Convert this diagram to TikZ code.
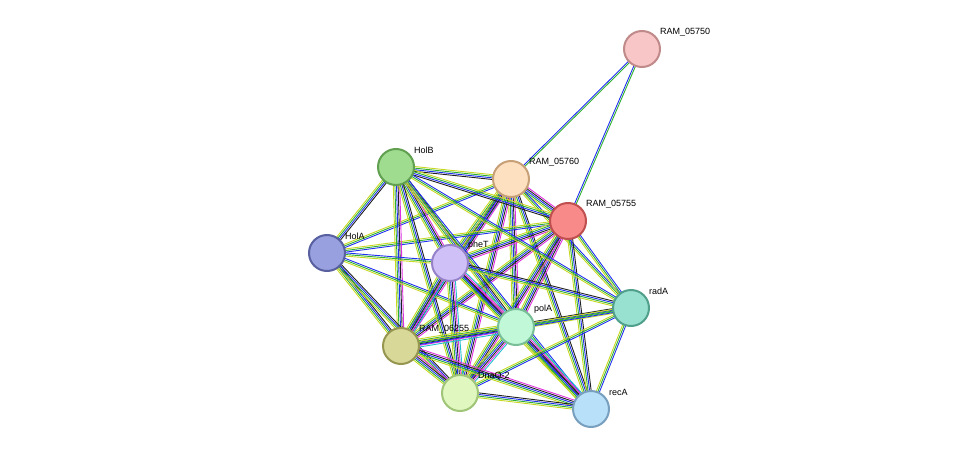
\documentclass[tikz,border=0pt]{standalone}
\usepackage{fontspec}
\setmainfont{Liberation Sans}
\usetikzlibrary{calc}
\begin{document}
\begin{tikzpicture}[x=1pt,y=-1pt,
  prot/.style={circle,minimum size=36pt,line width=2pt,inner sep=0pt},
  lab/.style={font=\fontsize{9}{10}\selectfont,anchor=south west,inner sep=1pt}]
\useasboundingbox (0,0) rectangle (975,455);
\definecolor{c1}{HTML}{C8D820}\definecolor{c2}{HTML}{30B030}\definecolor{c3}{HTML}{2030F0}
\definecolor{c4}{HTML}{202020}\definecolor{c5}{HTML}{E030E0}\definecolor{c6}{HTML}{20C0D0}
\coordinate (A) at (642,49);   % RAM_05750
\coordinate (B) at (511,179);  % RAM_05760
\coordinate (C) at (568,221);  % RAM_05755
\coordinate (D) at (396,167);  % HolB
\coordinate (E) at (327,253);  % HolA
\coordinate (F) at (450,263);  % pheT
\coordinate (G) at (516,327);  % polA
\coordinate (H) at (631,308);  % radA
\coordinate (I) at (401,346);  % RAM_06255
\coordinate (J) at (460,393);  % DnaQ-2
\coordinate (K) at (591,409);  % recA
\foreach \a/\b/\k in {A/B/2,A/C/2,
  B/C/5,B/D/4,B/E/3,B/F/6,B/G/5,B/H/3,B/I/5,B/J/5,B/K/4,
  C/D/4,C/E/3,C/F/5,C/G/5,C/H/3,C/I/5,C/J/5,C/K/4,
  D/E/4,D/F/5,D/G/4,D/H/3,D/I/5,D/J/4,D/K/3,
  E/F/3,E/G/3,E/I/4,E/J/4,
  F/G/6,F/H/4,F/I/6,F/J/6,F/K/5,
  G/H/4,G/I/6,G/J/6,G/K/6,
  H/I/3,H/J/3,H/K/3,
  I/J/5,I/K/5,J/K/4}{
  \foreach \i in {1,...,\k}{
    \pgfmathsetmacro\o{(\i-(\k+1)/2)*1.6}
    \pgfmathtruncatemacro\ci{\k==2 ? (\i==1 ? 3 : 2) : \i}
    \draw[c\ci,line width=0.9pt] ($(\a)!\o pt!90:(\b)$) -- ($(\b)!\o pt!-90:(\a)$);
  }
}
\node[prot,fill={rgb,255:red,248;green,198;blue,198},draw={rgb,255:red,192;green,138;blue,138}] (nA) at (A) {};
\node[prot,fill={rgb,255:red,253;green,224;blue,192},draw={rgb,255:red,200;green,160;blue,120}] (nB) at (B) {};
\node[prot,fill={rgb,255:red,248;green,138;blue,138},draw={rgb,255:red,192;green,80;blue,80}] (nC) at (C) {};
\node[prot,fill={rgb,255:red,160;green,220;blue,144},draw={rgb,255:red,96;green,160;blue,80}] (nD) at (D) {};
\node[prot,fill={rgb,255:red,152;green,160;blue,224},draw={rgb,255:red,88;green,96;blue,160}] (nE) at (E) {};
\node[prot,fill={rgb,255:red,208;green,192;blue,248},draw={rgb,255:red,150;green,130;blue,200}] (nF) at (F) {};
\node[prot,fill={rgb,255:red,192;green,248;blue,216},draw={rgb,255:red,120;green,190;blue,150}] (nG) at (G) {};
\node[prot,fill={rgb,255:red,152;green,224;blue,208},draw={rgb,255:red,80;green,160;blue,140}] (nH) at (H) {};
\node[prot,fill={rgb,255:red,216;green,216;blue,152},draw={rgb,255:red,150;green,150;blue,80}] (nI) at (I) {};
\node[prot,fill={rgb,255:red,224;green,248;blue,192},draw={rgb,255:red,160;green,196;blue,120}] (nJ) at (J) {};
\node[prot,fill={rgb,255:red,184;green,224;blue,248},draw={rgb,255:red,120;green,160;blue,190}] (nK) at (K) {};
\node[lab] at ($(A)+(17,-12)$) {RAM\_05750};
\node[lab] at ($(B)+(17,-12)$) {RAM\_05760};
\node[lab] at ($(C)+(17,-12)$) {RAM\_05755};
\node[lab] at ($(D)+(17,-12)$) {HolB};
\node[lab] at ($(E)+(17,-12)$) {HolA};
\node[lab] at ($(F)+(17,-12)$) {pheT};
\node[lab] at ($(G)+(17,-12)$) {polA};
\node[lab] at ($(H)+(17,-12)$) {radA};
\node[lab] at ($(I)+(17,-12)$) {RAM\_06255};
\node[lab] at ($(J)+(17,-12)$) {DnaQ-2};
\node[lab] at ($(K)+(17,-12)$) {recA};
\end{tikzpicture}
\end{document}
